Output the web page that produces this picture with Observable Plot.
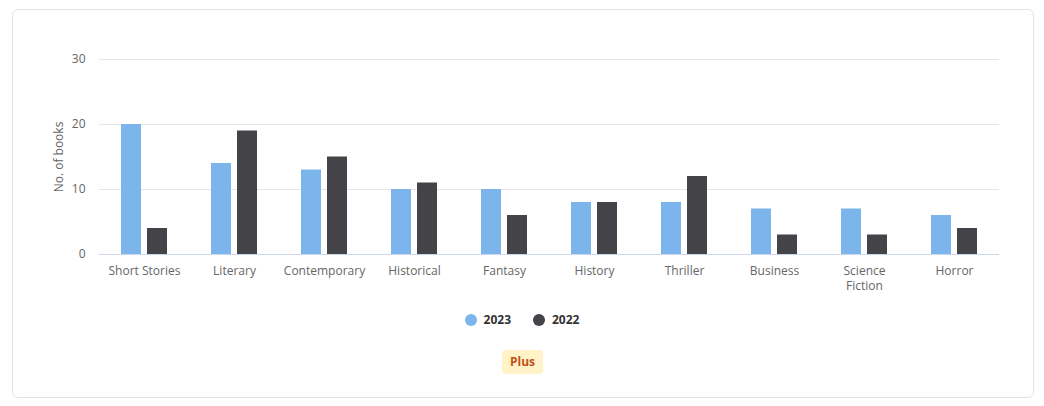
<!DOCTYPE html>
<html>
<head>
<meta charset="utf-8">
<script src="https://cdn.jsdelivr.net/npm/d3@7"></script>
<script src="https://cdn.jsdelivr.net/npm/@observablehq/plot@0.6"></script>
<style>
  html, body { margin: 0; padding: 0; background: #fff; }
  body { width: 1044px; height: 406px; position: relative; overflow: hidden; font-family: "Open Sans", sans-serif; }
  #card { position: absolute; left: 12px; top: 9px; width: 1020px; height: 387px; border: 1px solid #e3e3e3; border-radius: 6px; box-sizing: content-box; }
  #chart { position: absolute; left: 0; top: 0; }
  #legend { position: absolute; left: 0; width: 1044px; top: 311px; display: flex; justify-content: center; gap: 22px; font-size: 12px; font-weight: bold; color: #333; }
  #legend .item { display: flex; align-items: center; gap: 7px; }
  #legend .dot { width: 12px; height: 12px; border-radius: 50%; display: inline-block; }
  #badge { position: absolute; left: 502px; top: 350px; width: 41px; height: 24px; line-height: 24px; text-align: center; background: #fff3c7; color: #c2511c; font-size: 12px; font-weight: bold; border-radius: 4px; }
</style>
</head>
<body>
<div id="card"></div>
<div id="chart"></div>
<div id="legend"></div>
<div id="badge">Plus</div>
<script>
const categories = ["Short Stories", "Literary", "Contemporary", "Historical", "Fantasy", "History", "Thriller", "Business", "Science Fiction", "Horror"];
const values2023 = [20, 14, 13, 10, 10, 8, 8, 7, 7, 6];
const values2022 = [4, 19, 15, 11, 6, 8, 12, 3, 3, 4];
const series = ["2023", "2022"];
const seriesColors = ["#7cb5ec", "#434348"];
const yTicks = [0, 10, 20, 30];

const data = [];
categories.forEach((c, i) => {
  data.push({genre: c, year: series[0], value: values2023[i]});
  data.push({genre: c, year: series[1], value: values2022[i]});
});

const chart = Plot.plot({
  width: 1044,
  height: 300,
  marginLeft: 98,
  marginRight: 44,
  marginTop: 59,
  marginBottom: 46,
  style: {fontFamily: "'Open Sans', sans-serif", fontSize: "12px", color: "#666", background: "transparent"},
  fx: {domain: categories, padding: 0, label: null},
  x: {domain: series, axis: null, paddingInner: 0.222, paddingOuter: 0.78},
  y: {domain: [0, 30], label: null},
  color: {domain: series, range: seriesColors},
  marks: [
    Plot.gridY(yTicks, {stroke: "#e6e6e6", strokeOpacity: 1}),
    Plot.axisY(yTicks, {tickSize: 0, tickPadding: 14, fill: "#666", fontSize: 12, label: "No. of books", labelAnchor: "center", labelOffset: 45, labelArrow: "none"}),
    Plot.axisFx({anchor: "bottom", tickSize: 0, tickPadding: 10, fill: "#666", fontSize: 12, label: null, lineHeight: 1.25,
      tickFormat: d => d === "Science Fiction" ? "Science\nFiction" : d}),
    Plot.barY(data, {fx: "genre", x: "year", y: "value", fill: "year"}),
    Plot.ruleY([0], {stroke: "#ccd6eb", strokeWidth: 1})
  ]
});
document.getElementById("chart").appendChild(chart);

const legend = document.getElementById("legend");
series.forEach((s, i) => {
  const item = document.createElement("div");
  item.className = "item";
  const dot = document.createElement("span");
  dot.className = "dot";
  dot.style.background = seriesColors[i];
  const label = document.createElement("span");
  label.textContent = s;
  item.appendChild(dot);
  item.appendChild(label);
  legend.appendChild(item);
});
</script>
</body>
</html>
